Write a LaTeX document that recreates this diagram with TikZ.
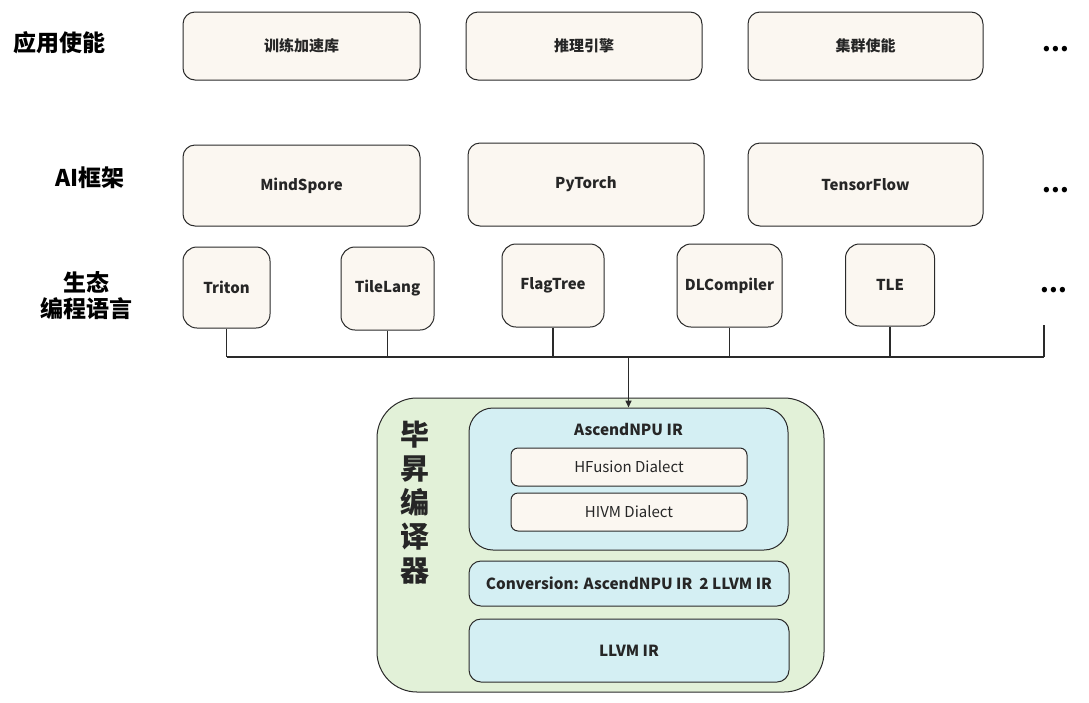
\documentclass[tikz,border=0pt]{standalone}
\usepackage{fontspec}
\setmainfont{Noto Sans CJK SC}
\usetikzlibrary{arrows.meta}
\definecolor{cream}{HTML}{FBF7F1}
\definecolor{lgreen}{HTML}{E2F1D8}
\definecolor{lblue}{HTML}{D4EFF3}
\definecolor{edge}{HTML}{2A2A2A}
\tikzset{
  cbox/.style={draw=edge, line width=1pt, fill=cream, rounded corners=12pt, inner sep=0pt, font=\fontsize{15}{17}\selectfont\bfseries, text=black!85},
  sbox/.style={cbox, rounded corners=14pt},
  bbox/.style={draw=edge, line width=1pt, fill=lblue, rounded corners=12pt, inner sep=0pt, font=\fontsize{15.3}{17}\selectfont\bfseries, text=black!85},
  dbox/.style={draw=edge, line width=1pt, fill=cream, rounded corners=7pt, inner sep=0pt, font=\fontsize{15}{17}\selectfont, text=black!85},
  lab/.style={font=\fontsize{23}{26}\selectfont\bfseries, align=center, inner sep=0pt},
  dots/.style={font=\fontsize{25}{28}\selectfont\bfseries, inner sep=0pt, anchor=base},
  wire/.style={draw=edge, line width=1.5pt},
}
\newcommand{\mydots}{.\kern0.3pt.\kern0.3pt.}
\begin{document}
\begin{tikzpicture}[x=1pt,y=-1pt]
\useasboundingbox[fill=white] (0,0) rectangle (1089,702);
% left labels
\node[lab] (l1) at (59,43) {应用使能};
\node[lab] (l2) at (90,178) {AI框架};
\node[lab] (l3) at (86,296) {生态\\编程语言};
% row 1
\node[cbox, minimum width=237pt, minimum height=68pt] (a1) at (301.5,46) {训练加速库};
\node[cbox, minimum width=236pt, minimum height=68pt] (a2) at (584,46) {推理引擎};
\node[cbox, minimum width=235pt, minimum height=68pt] (a3) at (865.5,46) {集群使能};
\node[dots] (d1) at (1056,51) {\mydots};
% row 2
\node[cbox, minimum width=237pt, minimum height=81pt] (b1) at (301.5,185.5) {MindSpore};
\node[cbox, minimum width=236pt, minimum height=83pt] (b2) at (586,184.5) {PyTorch};
\node[cbox, minimum width=235pt, minimum height=83pt] (b3) at (865.5,184.5) {TensorFlow};
\node[dots] (d2) at (1056,192) {\mydots};
% row 3
\node[sbox, minimum width=87pt, minimum height=81pt] (c1) at (226.5,287.5) {Triton};
\node[sbox, minimum width=93pt, minimum height=83pt] (c2) at (387.5,288.5) {TileLang};
\node[sbox, minimum width=102pt, minimum height=83pt] (c3) at (553,285.5) {FlagTree};
\node[sbox, minimum width=105pt, minimum height=83pt] (c4) at (729.5,285.5) {DLCompiler};
\node[sbox, minimum width=89pt, minimum height=82pt] (c5) at (890,285) {TLE};
\node[dots] (d3) at (1054,292) {\mydots};
\coordinate (c6) at (1044,325);
% compiler
\node[draw=edge, line width=1pt, fill=lgreen, rounded corners=40pt, minimum width=447pt, minimum height=294pt] (comp) at (600.5,545) {};
\node[font=\fontsize{29}{34}\selectfont\bfseries, align=center, inner sep=0pt, text=black!85] (clab) at (415,503) {毕\\昇\\编\\译\\器};
\node[bbox, rounded corners=24pt, minimum width=319pt, minimum height=142pt] (ir) at (628.5,479) {};
\node[font=\fontsize{15.3}{17}\selectfont\bfseries, inner sep=0pt, text=black!85] (irt) at (628.5,429) {AscendNPU IR};
\node[dbox, minimum width=236pt, minimum height=38pt] (hf) at (629,467) {HFusion Dialect};
\node[dbox, minimum width=236pt, minimum height=38pt] (hv) at (629,512) {HIVM Dialect};
\node[bbox, minimum width=320pt, minimum height=45pt] (conv) at (629,583.5) {Conversion: AscendNPU IR\ \ 2 LLVM IR};
\node[bbox, minimum width=320pt, minimum height=63pt] (llvm) at (629,650.5) {LLVM IR};
% wires
\coordinate (bus) at (628.5,357);
\draw[wire] (c1.south) -- (c1.south |- bus);
\draw[wire] (c2.south) -- (c2.south |- bus);
\draw[wire] (c3.south) -- (c3.south |- bus);
\draw[wire] (c4.south) -- (c4.south |- bus);
\draw[wire] (c5.south) -- (c5.south |- bus);
\draw[wire] (c6) -- (c6 |- bus);
\draw[wire] (c1.south |- bus) -- (c6 |- bus);
\draw[wire, -{Triangle[length=7pt,width=6pt]}] (bus) -- (ir.north);
\end{tikzpicture}
\end{document}
